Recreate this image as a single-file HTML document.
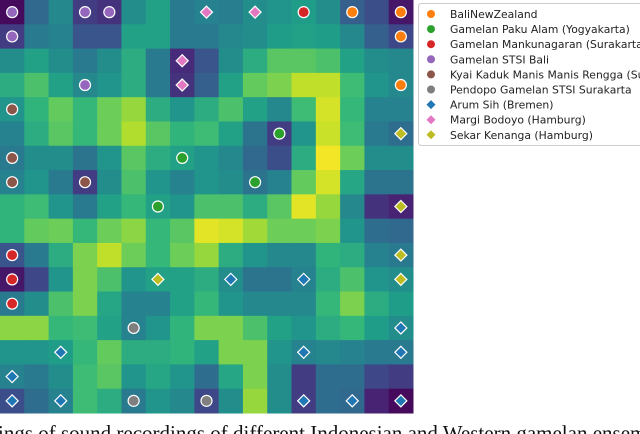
<!DOCTYPE html>
<html><head><meta charset="utf-8">
<style>
html,body{margin:0;padding:0;background:#fff;width:640px;height:434px;overflow:hidden;position:relative}
#capwrap{position:absolute;left:0;top:0;width:640px;height:434px;overflow:hidden}
#caption{position:absolute;left:-2px;top:421px;font-family:"Liberation Serif",serif;font-size:21px;white-space:nowrap;color:#111}
</style></head><body>
<svg id="chart" width="640" height="434" style="position:absolute;left:0;top:0"></svg>
<div id="capwrap"><div id="caption">ings of sound recordings of different Indonesian and Western gamelan ensembles</div></div>
<script>
const gridValues = [
[0.02,0.28,0.40,0.15,0.12,0.42,0.50,0.35,0.38,0.36,0.42,0.45,0.48,0.42,0.25,0.20,0.05],
[0.15,0.35,0.38,0.22,0.22,0.50,0.50,0.35,0.35,0.40,0.42,0.48,0.50,0.48,0.40,0.25,0.18],
[0.42,0.50,0.42,0.35,0.42,0.55,0.35,0.10,0.22,0.42,0.55,0.68,0.68,0.65,0.50,0.42,0.40],
[0.55,0.65,0.50,0.40,0.45,0.55,0.35,0.12,0.25,0.50,0.70,0.75,0.88,0.88,0.62,0.45,0.40],
[0.45,0.58,0.70,0.60,0.72,0.80,0.55,0.45,0.55,0.65,0.50,0.40,0.62,0.92,0.60,0.38,0.38],
[0.38,0.55,0.68,0.60,0.72,0.85,0.68,0.58,0.62,0.50,0.32,0.15,0.45,0.90,0.62,0.35,0.30],
[0.35,0.42,0.42,0.32,0.45,0.68,0.55,0.50,0.45,0.40,0.28,0.20,0.55,0.98,0.72,0.42,0.42],
[0.38,0.45,0.35,0.15,0.42,0.65,0.45,0.38,0.45,0.42,0.32,0.38,0.70,0.92,0.52,0.32,0.32],
[0.58,0.62,0.45,0.35,0.50,0.60,0.50,0.45,0.65,0.65,0.55,0.68,0.95,0.80,0.40,0.12,0.08],
[0.58,0.70,0.72,0.60,0.72,0.78,0.60,0.68,0.95,0.92,0.82,0.72,0.72,0.75,0.45,0.30,0.28],
[0.22,0.35,0.55,0.75,0.88,0.72,0.60,0.72,0.80,0.55,0.45,0.40,0.40,0.58,0.55,0.38,0.35],
[0.05,0.18,0.45,0.75,0.65,0.45,0.50,0.50,0.55,0.42,0.32,0.32,0.38,0.55,0.65,0.45,0.42],
[0.35,0.42,0.65,0.75,0.52,0.38,0.38,0.50,0.60,0.45,0.40,0.40,0.40,0.60,0.75,0.55,0.48],
[0.78,0.78,0.60,0.62,0.50,0.38,0.45,0.58,0.75,0.75,0.65,0.50,0.45,0.55,0.60,0.48,0.42],
[0.45,0.45,0.48,0.60,0.70,0.55,0.55,0.58,0.50,0.75,0.75,0.45,0.38,0.40,0.38,0.35,0.35],
[0.38,0.35,0.42,0.62,0.68,0.45,0.52,0.45,0.30,0.52,0.75,0.42,0.15,0.30,0.30,0.18,0.15],
[0.20,0.30,0.38,0.62,0.55,0.35,0.45,0.40,0.18,0.42,0.80,0.42,0.15,0.30,0.28,0.08,0.02]
];
const seriesNames = ["BaliNewZealand","Gamelan  Paku Alam  (Yogyakarta)","Gamelan Mankunagaran (Surakarta)","Gamelan STSI Bali","Kyai Kaduk Manis Manis Rengga (Surakarta)","Pendopo Gamelan STSI Surakarta","Arum Sih (Bremen)","Margi Bodoyo (Hamburg)","Sekar Kenanga (Hamburg)"];
const seriesColors = ["#ff7f0e","#2ca02c","#d62728","#9467bd","#8c564b","#7f7f7f","#1f77b4","#e377c2","#bcbd22"];
const seriesShapes = ["o","o","o","o","o","o","d","d","d"];
const seriesPoints = [
[[0,14],[0,16],[1,16],[3,16]],
[[5,11],[6,7],[7,10],[8,6]],
[[0,12],[10,0],[11,0],[12,0]],
[[0,0],[0,3],[0,4],[1,0],[3,3]],
[[4,0],[6,0],[7,0],[7,3]],
[[13,5],[16,5],[16,8]],
[[11,9],[11,12],[13,16],[14,2],[14,12],[14,16],[15,0],[16,0],[16,2],[16,12],[16,14],[16,16]],
[[0,8],[0,10],[2,7],[3,7]],
[[5,16],[8,16],[10,16],[11,6],[11,16]]
];
const NS="http://www.w3.org/2000/svg";
const svg=document.getElementById('chart');
const cell=413/17;
const xPos=c=>c*cell, yPos=r=>r*cell;
const vir=[[68,1,84],[72,40,120],[62,73,137],[49,104,142],[38,130,142],[31,158,137],[53,183,121],[110,206,88],[181,222,43],[253,231,37]];
function color(v){v=v+0.07*Math.sin(Math.PI*v);v=Math.max(0,Math.min(1,v))*(vir.length-1);const i=Math.min(Math.floor(v),vir.length-2),t=v-i;const a=vir[i],b=vir[i+1];return `rgb(${a.map((x,k)=>Math.round(x+(b[k]-x)*t)).join(',')})`;}
function mk(tag,attrs){const e=document.createElementNS(NS,tag);for(const k in attrs)e.setAttribute(k,attrs[k]);return e;}
gridValues.forEach((row,r)=>row.forEach((v,c)=>{
  const e=mk('rect',{x:xPos(c),y:yPos(r),width:cell+0.5,height:cell+0.5,fill:color(v)});
  
  
  svg.appendChild(e);
}));
seriesPoints.forEach((pts,s)=>pts.forEach(([r,c])=>{
  const cx=xPos(c)+cell/2, cy=yPos(r)+cell/2;
  let e;
  if(seriesShapes[s]==='o') e=mk('circle',{cx,cy,r:5.5,fill:seriesColors[s],stroke:'#fff','stroke-width':1.2});
  else e=mk('polygon',{points:`${cx},${cy-6} ${cx+6},${cy} ${cx},${cy+6} ${cx-6},${cy}`,fill:seriesColors[s],stroke:'#fff','stroke-width':1.2});
  
  
  svg.appendChild(e);
}));
const lg=mk('g',{});


svg.appendChild(lg);
lg.appendChild(mk('rect',{x:418.5,y:3.5,width:240,height:142,rx:3,fill:'#fff',stroke:'#ccc'}));
seriesNames.forEach((n,i)=>{
  const y=14+i*15.1;
  const g=mk('g',{});
  
  
  if(seriesShapes[i]==='o') g.appendChild(mk('circle',{cx:431,cy:y,r:4,fill:seriesColors[i]}));
  else g.appendChild(mk('polygon',{points:`431,${y-4.5} 435.5,${y} 431,${y+4.5} 426.5,${y}`,fill:seriesColors[i]}));
  const t=mk('text',{x:450,y:y+4,'font-family':'DejaVu Sans, Liberation Sans, sans-serif','font-size':'10.8',fill:'#222'});
  t.textContent=n;g.appendChild(t);lg.appendChild(g);
});
</script>
</body></html>
